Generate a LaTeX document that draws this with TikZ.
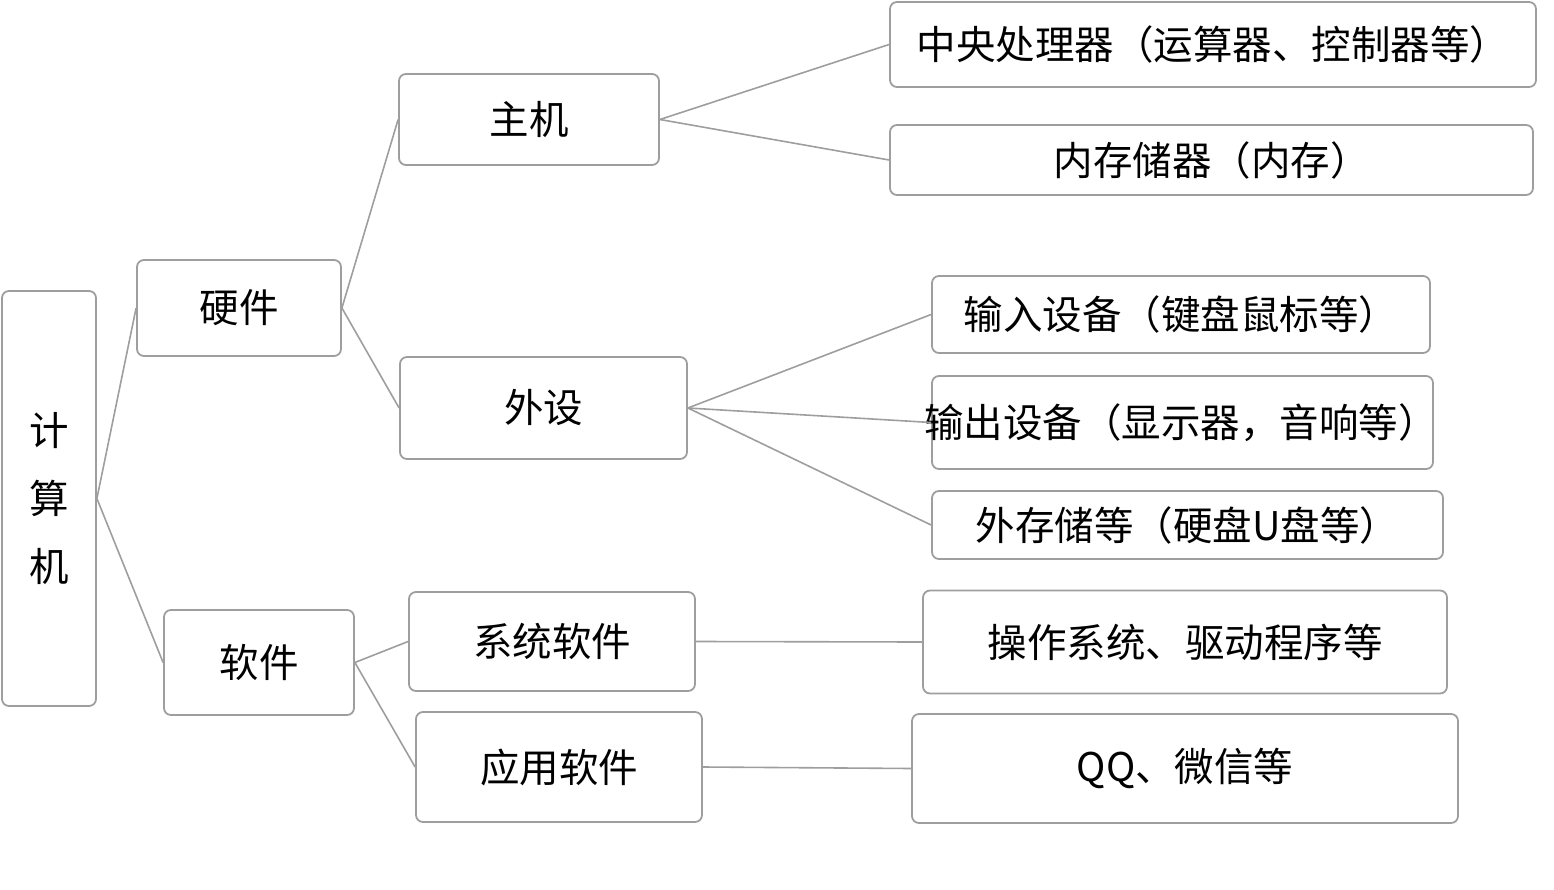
\documentclass[tikz,border=0pt]{standalone}
\usepackage{fontspec}
\setmainfont{Noto Sans CJK SC}
\definecolor{linegray}{RGB}{158,158,158}
\begin{document}
\begin{tikzpicture}[x=1pt, y=-1pt,
    box/.style={draw=linegray, line width=1.8pt, rounded corners=7pt, inner sep=0pt,
      font=\fontsize{39.5}{42}\selectfont, align=center},
    link/.style={draw=linegray, line width=1.6pt}]
    \useasboundingbox (0,0) rectangle (1554,890);

    % root
    \node[box, minimum width=94pt, minimum height=415pt,
      font=\fontsize{39.5}{68}\selectfont] (pc) at (49,498.5) {计\\算\\机};

    % level 1
    \node[box, minimum width=204pt, minimum height=96pt] (hw) at (239,308) {硬件};
    \node[box, minimum width=190pt, minimum height=105pt] (sw) at (259,662.5) {软件};

    % level 2
    \node[box, minimum width=260pt, minimum height=91pt] (host) at (529,119.5) {主机};
    \node[box, minimum width=287pt, minimum height=102pt] (peri) at (543.5,408) {外设};
    \node[box, minimum width=286pt, minimum height=99pt] (sys) at (552,641.5) {系统软件};
    \node[box, minimum width=286pt, minimum height=110pt] (app) at (559,767) {应用软件};

    % level 3
    \node[box, minimum width=646pt, minimum height=85pt] (cpu) at (1213,44.5) {中央处理器（运算器、控制器等）};
    \node[box, minimum width=643pt, minimum height=70pt] (mem) at (1211.5,160) {内存储器（内存）};
    \node[box, minimum width=498pt, minimum height=77pt] (in) at (1181,314.5) {输入设备（键盘鼠标等）};
    \node[box, minimum width=501pt, minimum height=93pt] (out) at (1182.5,422.5) {};
    \node[font=\fontsize{39.5}{42}\selectfont, inner sep=0pt] at (1181,422.5) {输出设备（显示器，音响等）};
    \node[box, minimum width=511pt, minimum height=68pt] (ext) at (1187.5,525) {外存储等（硬盘U盘等）};
    \node[box, minimum width=524pt, minimum height=103pt] (os) at (1185,642) {操作系统、驱动程序等};
    \node[box, minimum width=546pt, minimum height=109pt] (qq) at (1185,768.5) {QQ、微信等};

    \draw[link] (pc.east) -- (hw.west);
    \draw[link] (pc.east) -- (sw.west);
    \draw[link] (hw.east) -- (host.west);
    \draw[link] (hw.east) -- (peri.west);
    \draw[link] (sw.east) -- (sys.west);
    \draw[link] (sw.east) -- (app.west);
    \draw[link] (host.east) -- (cpu.west);
    \draw[link] (host.east) -- (mem.west);
    \draw[link] (peri.east) -- (in.west);
    \draw[link] (peri.east) -- (out.west);
    \draw[link] (peri.east) -- (ext.west);
    \draw[link] (sys.east) -- (os.west);
    \draw[link] (app.east) -- (qq.west);
\end{tikzpicture}
\end{document}
